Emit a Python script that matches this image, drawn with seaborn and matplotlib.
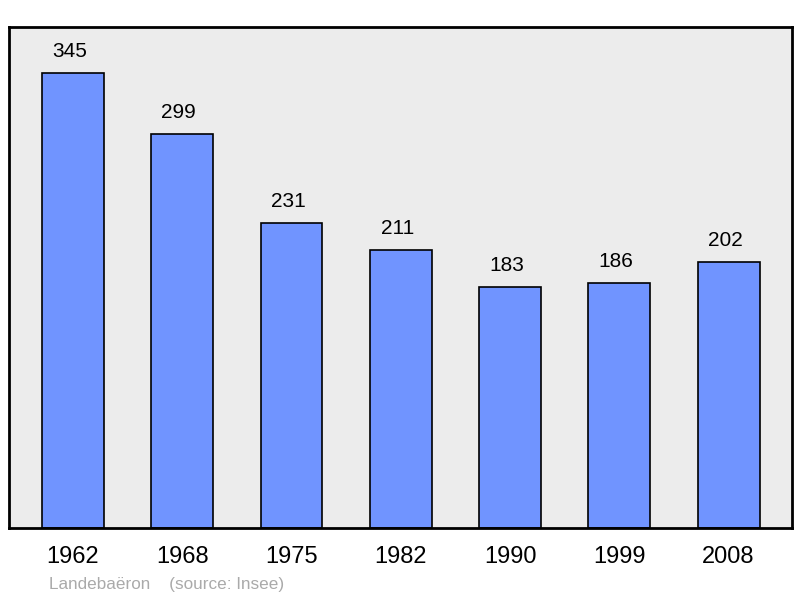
import matplotlib
matplotlib.use("Agg")
import matplotlib.pyplot as plt
import seaborn as sns
import pandas as pd

years = ["1962", "1968", "1975", "1982", "1990", "1999", "2008"]
population = [345, 299, 231, 211, 183, 186, 202]
source_text = "Landebaëron    (source: Insee)"

sns.set_style("white")
plt.rcParams['font.family'] = ['Liberation Sans', 'DejaVu Sans']
plt.rcParams['text.color'] = 'black'
plt.rcParams['xtick.color'] = 'black'

df = pd.DataFrame({"year": years, "pop": population})

fig = plt.figure(figsize=(8, 5.98), dpi=100)
ax = fig.add_axes([9/800, 70/598, 783/800, 501/598])
ax.set_facecolor("#ececec")

sns.barplot(data=df, x="year", y="pop", ax=ax, color="#7094ff", saturation=1,
            width=0.567, edgecolor="black", linewidth=1.2)

ax.set_xlim(-0.585, 6.58)
ax.set_ylim(0, 380)
ax.set_xlabel("")
ax.set_ylabel("")
ax.set_yticks([])
ax.tick_params(axis="x", length=0, labelsize=17, pad=13, colors="black")
for s in ax.spines.values():
    s.set_visible(True)
    s.set_linewidth(2)
    s.set_color("black")

for i, v in enumerate(population):
    ax.annotate(str(v), (i, v), xytext=(-2.5, 15.5), textcoords="offset points",
                ha="center", va="center", fontsize=15, color="black")

fig.text(49/800, 1 - 584/598, source_text, fontsize=12.3, color="#aaaaaa",
         ha="left", va="center")

fig.savefig("out.png", dpi=100)
